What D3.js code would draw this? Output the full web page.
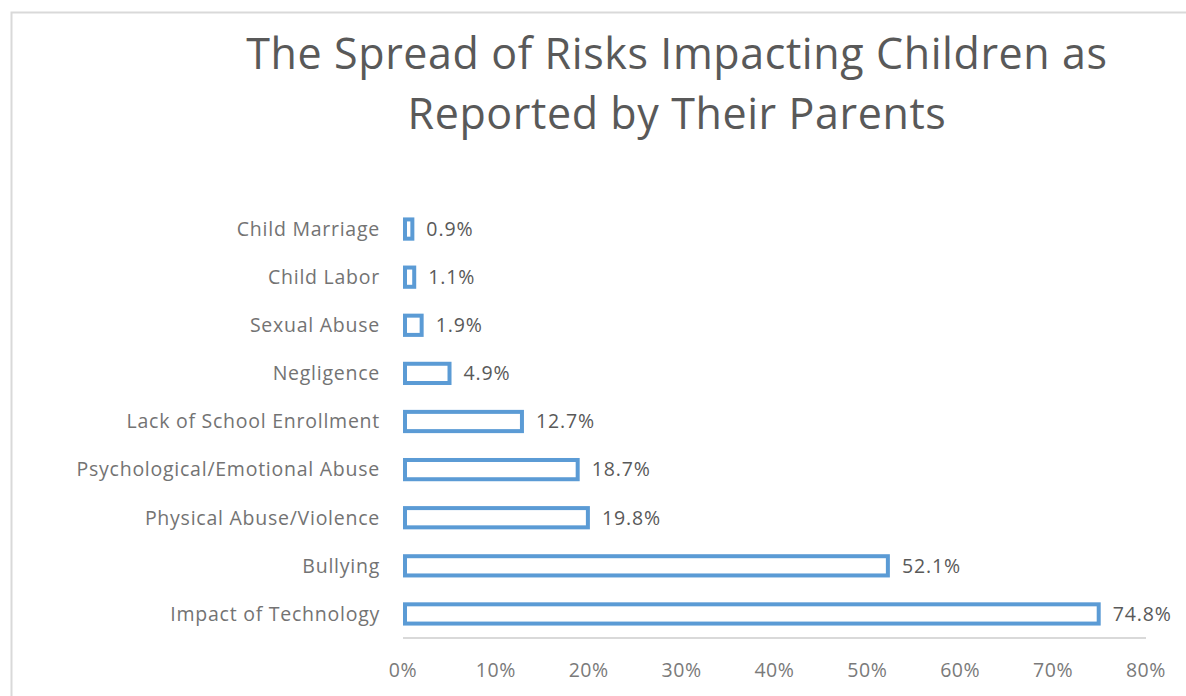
<!DOCTYPE html>
<html>
<head>
<meta charset="utf-8">
<script src="https://cdn.jsdelivr.net/npm/d3@7"></script>
<style>
  body { margin: 0; background: #fff; }
  svg text { font-family: "Open Sans", Lato, sans-serif; fill: #595959; }
</style>
</head>
<body>
<svg id="chart" width="1186" height="696"></svg>
<script>
// data
var categories = ["Child Marriage", "Child Labor", "Sexual Abuse", "Negligence",
  "Lack of School Enrollment", "Psychological/Emotional Abuse",
  "Physical Abuse/Violence", "Bullying", "Impact of Technology"];
var values = [0.9, 1.1, 1.9, 4.9, 12.7, 18.7, 19.8, 52.1, 74.8];
var tickValues = [0, 10, 20, 30, 40, 50, 60, 70, 80];
var titleLines = ["The Spread of Risks Impacting Children as", "Reported by Their Parents"];

var svg = d3.select("#chart");

// chart frame (runs off the right and bottom of the window)
svg.append("rect")
  .attr("x", 11.5).attr("y", 12.5)
  .attr("width", 1200).attr("height", 720)
  .attr("fill", "none").attr("stroke", "#d9d9d9").attr("stroke-width", 2);

var x = d3.scaleLinear().domain([0, 80]).range([403, 1146]);
var y = d3.scaleBand().domain(categories).range([205, 638]).paddingInner(0.6).paddingOuter(0.3);

// title
svg.append("text")
  .attr("x", 677).attr("y", 54)
  .attr("text-anchor", "middle")
  .style("font-size", "43px")
  .style("letter-spacing", "0.6px")
  .selectAll("tspan")
  .data(titleLines).enter()
  .append("tspan")
  .attr("x", 677)
  .attr("dy", function (d, i) { return i === 0 ? "0.35em" : "60px"; })
  .text(function (d) { return d; });

// axis line
svg.append("line")
  .attr("x1", x(0)).attr("x2", x(80))
  .attr("y1", 638).attr("y2", 638)
  .attr("stroke", "#d9d9d9").attr("stroke-width", 2);

// tick labels
svg.selectAll(".tick-label")
  .data(tickValues).enter()
  .append("text")
  .attr("class", "tick-label")
  .attr("x", function (d) { return x(d); })
  .attr("y", 670)
  .attr("dy", "0.35em")
  .attr("text-anchor", "middle")
  .style("font-size", "19.5px")
  .style("letter-spacing", "0.6px")
  .style("fill", "#7a7a7a")
  .text(function (d) { return d + "%"; });

// category labels
svg.selectAll(".cat-label")
  .data(categories).enter()
  .append("text")
  .attr("class", "cat-label")
  .attr("x", 380)
  .attr("y", function (d) { return y(d) + y.bandwidth() / 2; })
  .attr("dy", "0.35em")
  .attr("text-anchor", "end")
  .style("font-size", "19.5px")
  .style("letter-spacing", "0.75px")
  .style("fill", "#737373")
  .text(function (d) { return d; });

// bars: white fill with thick blue outline
svg.selectAll(".bar")
  .data(values).enter()
  .append("rect")
  .attr("class", "bar")
  .attr("x", x(0) + 2)
  .attr("y", function (d, i) { return y(categories[i]); })
  .attr("width", function (d) { return Math.max(x(d) - x(0) - 1, 3); })
  .attr("height", y.bandwidth())
  .attr("fill", "#fff")
  .attr("stroke", "#5b9bd5")
  .attr("stroke-width", 4);

// value labels
svg.selectAll(".val-label")
  .data(values).enter()
  .append("text")
  .attr("class", "val-label")
  .attr("x", function (d) { return x(d) + 15; })
  .attr("y", function (d, i) { return y(categories[i]) + y.bandwidth() / 2; })
  .attr("dy", "0.35em")
  .style("font-size", "19.5px")
  .style("letter-spacing", "0.9px")
  .text(function (d) { return d.toFixed(1) + "%"; });
</script>
</body>
</html>
